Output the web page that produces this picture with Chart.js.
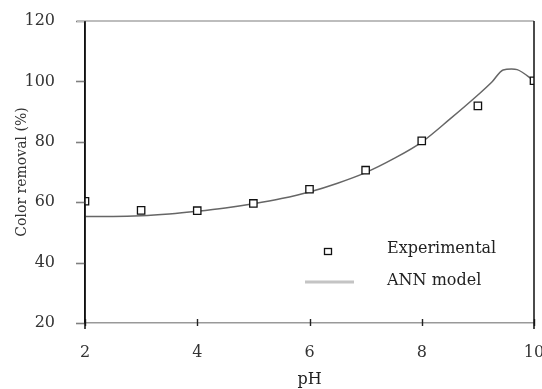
<!DOCTYPE html>
<html>
<head>
<meta charset="utf-8">
<script src="https://cdn.jsdelivr.net/npm/chart.js@4"></script>
<style>
html,body{margin:0;padding:0;background:#fff;}
#wrap{width:542px;height:389px;position:relative;}
</style>
</head>
<body>
<div id="wrap"><canvas id="c" width="542" height="389"></canvas></div>
<script>
// Experimental data (pH vs colour removal %)
const expPH = [2, 3, 4, 5, 6, 7, 8, 9, 10];
const expRemoval = [60.3, 57.3, 57.2, 59.6, 64.3, 70.6, 80.3, 91.9, 100.2];
// ANN model curve
const annPH = [2, 2.5, 3, 3.5, 4, 4.5, 5, 5.5, 6, 6.5, 7, 7.5, 8, 8.5, 9, 9.25, 9.45, 9.6, 9.7, 10];
const annRemoval = [55.3, 55.3, 55.5, 56.1, 57.0, 58.1, 59.5, 61.2, 63.4, 66.3, 69.8, 74.4, 79.9, 87.5, 95.5, 99.8, 103.8, 104.1, 103.9, 100.2];
const xTicks = [2, 4, 6, 8, 10];
const yTicks = [20, 40, 60, 80, 100, 120];
const labels = ['Experimental', 'ANN model'];
const axisTitles = { x: 'pH', y: 'Color removal (%)' };

const FONT = "'DejaVu Serif', serif";

const framePlugin = {
  id: 'frame',
  afterDraw(chart) {
    const { ctx, chartArea: a, scales } = chart;
    ctx.save();
    // y ticks (gray, outside)
    ctx.strokeStyle = '#808080';
    ctx.lineWidth = 1.6;
    yTicks.forEach(v => {
      const y = Math.round(scales.y.getPixelForValue(v)) + 0.5;
      ctx.beginPath();
      ctx.moveTo(a.left - 9, y);
      ctx.lineTo(a.left, y);
      ctx.stroke();
    });
    // x ticks (dark, small)
    ctx.strokeStyle = '#222';
    ctx.lineWidth = 1.4;
    xTicks.forEach(v => {
      const x = Math.round(scales.x.getPixelForValue(v)) + 0.5;
      ctx.beginPath();
      ctx.moveTo(x, a.bottom - 4);
      ctx.lineTo(x, a.bottom + 3);
      ctx.stroke();
    });
    // top border (gray)
    ctx.strokeStyle = '#bdbdbd';
    ctx.lineWidth = 2;
    ctx.beginPath();
    ctx.moveTo(a.left - 8, a.top);
    ctx.lineTo(a.right, a.top);
    ctx.stroke();
    // right border and left axis (black)
    ctx.strokeStyle = '#111';
    ctx.lineWidth = 1.5;
    ctx.beginPath();
    ctx.moveTo(a.right, a.top);
    ctx.lineTo(a.right, a.bottom + 6);
    ctx.moveTo(a.left, a.top);
    ctx.lineTo(a.left, a.bottom + 6);
    ctx.stroke();

    // legend
    const ds0 = chart.data.datasets[0];
    const ds1 = chart.data.datasets[1];
    ctx.fillStyle = '#fff';
    ctx.strokeStyle = ds0.pointBorderColor;
    ctx.lineWidth = 1.3;
    ctx.fillRect(324.5, 248.5, 7, 6);
    ctx.strokeRect(324.5, 248.5, 7, 6);
    ctx.strokeStyle = '#c4c4c4';
    ctx.lineWidth = 3;
    ctx.beginPath();
    ctx.moveTo(305, 282);
    ctx.lineTo(354, 282);
    ctx.stroke();
    ctx.fillStyle = '#222';
    ctx.font = "16px " + FONT;
    ctx.textBaseline = 'middle';
    ctx.textAlign = 'left';
    ctx.fillText(ds0.label, 387, 249);
    ctx.fillText(ds1.label, 387, 281);
    ctx.restore();
  }
};

new Chart(document.getElementById('c'), {
  type: 'scatter',
  data: {
    datasets: [
      {
        label: labels[0],
        data: expPH.map((x, i) => ({ x, y: expRemoval[i] })),
        pointStyle: 'rect',
        pointRadius: 5.2,
        pointBackgroundColor: '#fff',
        pointBorderColor: '#111',
        pointBorderWidth: 1.3,
        showLine: false,
        order: 0
      },
      {
        label: labels[1],
        data: annPH.map((x, i) => ({ x, y: annRemoval[i] })),
        showLine: true,
        borderColor: '#666',
        borderWidth: 1.5,
        pointRadius: 0,
        cubicInterpolationMode: 'monotone',
        order: 1
      }
    ]
  },
  options: {
    responsive: false,
    animation: false,
    events: [],
    layout: { padding: { left: 0, right: 8, top: 21, bottom: 0 } },
    plugins: { legend: { display: false }, tooltip: { enabled: false }, title: { display: false } },
    scales: {
      x: {
        type: 'linear',
        min: 2, max: 10,
        afterBuildTicks: s => { s.ticks = xTicks.map(v => ({ value: v })); },
        afterFit: s => { s.height = 66; s.paddingLeft = 0; s.paddingRight = 0; },
        grid: { display: false, drawOnChartArea: false, tickLength: 6 },
        border: { display: true, color: '#999', width: 1.5 },
        ticks: { color: '#333', font: { family: FONT, size: 16 }, padding: 14, maxRotation: 0 },
        title: { display: true, text: axisTitles.x, color: '#222', font: { family: FONT, size: 16 }, padding: { top: 8, bottom: 0 } }
      },
      y: {
        min: 20, max: 120,
        afterBuildTicks: s => { s.ticks = yTicks.map(v => ({ value: v })); },
        afterFit: s => { s.width = 85; s.paddingTop = 0; s.paddingBottom = 0; },
        grid: { display: false, drawOnChartArea: false, tickLength: 8 },
        border: { display: true, color: '#111', width: 1.5 },
        ticks: { color: '#333', font: { family: FONT, size: 16 }, padding: 22 },
        title: { display: true, text: axisTitles.y, color: '#333', font: { family: FONT, size: 14 }, padding: { top: 14, bottom: 0 } }
      }
    }
  },
  plugins: [framePlugin]
});
</script>
</body>
</html>
